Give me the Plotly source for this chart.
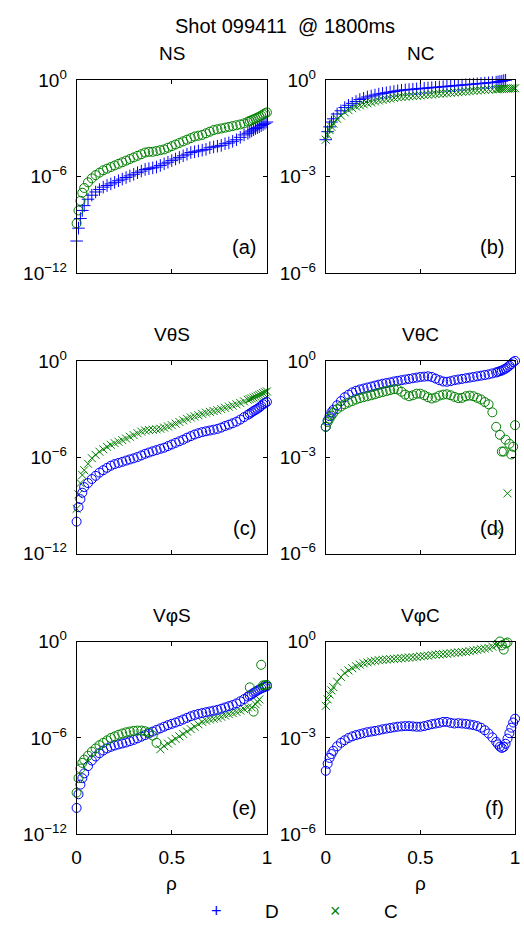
import plotly.graph_objects as go

# ---------------- data (log10 of |value|, sign separately) ----------------
RHO = [0, 0.01, 0.02, 0.03, 0.04, 0.06, 0.08, 0.10, 0.12, 0.14,
       0.16, 0.18, 0.20, 0.22, 0.24, 0.26, 0.28, 0.30, 0.32, 0.34,
       0.36, 0.38, 0.40, 0.42, 0.44, 0.46, 0.48, 0.50, 0.52, 0.54,
       0.56, 0.58, 0.60, 0.62, 0.64, 0.66, 0.68, 0.70, 0.72, 0.74,
       0.76, 0.78, 0.80, 0.82, 0.84, 0.86, 0.88, 0.90, 0.91, 0.92,
       0.93, 0.94, 0.95, 0.96, 0.97, 0.98, 0.99, 1.00]

NS_D = [-10.0, -9.2, -8.6, -8.1, -7.8, -7.4, -7.15, -6.95, -6.8, -6.65,
        -6.55, -6.45, -6.35, -6.25, -6.15, -6.05, -5.95, -5.85, -5.75, -5.65,
        -5.55, -5.5, -5.45, -5.4, -5.3, -5.2, -5.1, -5.0, -4.9, -4.8,
        -4.7, -4.6, -4.5, -4.45, -4.4, -4.35, -4.3, -4.2, -4.15, -4.1,
        -4.05, -3.95, -3.9, -3.8, -3.7, -3.55, -3.4, -3.3, -3.22, -3.15,
        -3.08, -3.0, -2.95, -2.9, -2.82, -2.75, -2.68, -2.6]
NS_D_SIGN = 1
NS_C = [-8.9, -8.1, -7.5, -7.0, -6.7, -6.35, -6.1, -5.9, -5.75, -5.6,
        -5.5, -5.4, -5.3, -5.2, -5.1, -5.0, -4.9, -4.8, -4.7, -4.6,
        -4.5, -4.45, -4.45, -4.4, -4.35, -4.3, -4.2, -4.1, -4.0, -3.9,
        -3.8, -3.7, -3.6, -3.5, -3.45, -3.4, -3.3, -3.2, -3.1, -3.05,
        -3.0, -2.95, -2.9, -2.85, -2.8, -2.75, -2.68, -2.58, -2.53, -2.48,
        -2.43, -2.38, -2.32, -2.27, -2.2, -2.13, -2.06, -2.0]
NS_C_SIGN = -1

NC_D = [-1.85, -1.6, -1.45, -1.3, -1.2, -1.05, -0.95, -0.85, -0.78, -0.72,
        -0.66, -0.6, -0.56, -0.52, -0.49, -0.46, -0.43, -0.41, -0.39, -0.37,
        -0.35, -0.33, -0.31, -0.3, -0.29, -0.28, -0.27, -0.26, -0.25, -0.24,
        -0.23, -0.22, -0.21, -0.2, -0.19, -0.18, -0.17, -0.16, -0.15, -0.14,
        -0.13, -0.12, -0.11, -0.1, -0.09, -0.08, -0.07, -0.06, -0.05, -0.04,
        -0.03, -0.01, 0.0, 0.02, None, None, None, None]
NC_D_SIGN = 1
NC_C = [-1.85, -1.7, -1.55, -1.45, -1.35, -1.2, -1.1, -1.0, -0.93, -0.87,
        -0.82, -0.78, -0.75, -0.72, -0.69, -0.66, -0.63, -0.61, -0.59, -0.57,
        -0.55, -0.53, -0.52, -0.51, -0.5, -0.49, -0.48, -0.47, -0.46, -0.45,
        -0.44, -0.43, -0.42, -0.41, -0.4, -0.39, -0.38, -0.37, -0.36, -0.35,
        -0.34, -0.33, -0.32, -0.31, -0.3, -0.29, -0.28, -0.28, -0.28, -0.27,
        -0.27, -0.27, -0.26, -0.26, -0.26, -0.25, -0.25, -0.25]
NC_C_SIGN = 1

VTS_D = [-10.0, -9.1, -8.6, -8.2, -7.85, -7.6, -7.35, -7.15, -6.95, -6.8,
         -6.65, -6.52, -6.42, -6.35, -6.28, -6.2, -6.13, -6.06, -5.98, -5.88,
         -5.78, -5.7, -5.62, -5.55, -5.47, -5.4, -5.3, -5.2, -5.1, -5.0,
         -4.9, -4.78, -4.68, -4.58, -4.5, -4.43, -4.38, -4.33, -4.28, -4.23,
         -4.15, -4.05, -3.97, -3.88, -3.78, -3.65, -3.5, -3.35, -3.28, -3.2,
         -3.12, -3.05, -2.98, -2.9, -2.8, -2.7, -2.62, -2.55]
VTS_D_SIGN = -1
VTS_C = [-9.2, -8.3, -7.6, -7.1, -6.8, -6.4, -6.05, -5.85, -5.65, -5.5,
         -5.35, -5.22, -5.12, -5.03, -4.93, -4.83, -4.72, -4.62, -4.5, -4.4,
         -4.33, -4.3, -4.28, -4.26, -4.22, -4.15, -4.08, -4.0, -3.9, -3.8,
         -3.7, -3.6, -3.52, -3.45, -3.38, -3.3, -3.22, -3.17, -3.12, -3.07,
         -3.0, -2.92, -2.85, -2.78, -2.7, -2.62, -2.52, -2.42, -2.38, -2.33,
         -2.28, -2.23, -2.17, -2.12, -2.06, -2.0, -1.95, -1.9]
VTS_C_SIGN = 1

VTC_D = [-2.05, -1.85, -1.72, -1.6, -1.52, -1.38, -1.25, -1.13, -1.05, -0.98,
         -0.93, -0.89, -0.86, -0.83, -0.8, -0.77, -0.74, -0.71, -0.69, -0.67,
         -0.64, -0.62, -0.6, -0.58, -0.56, -0.54, -0.52, -0.5, -0.49, -0.48,
         -0.5, -0.55, -0.6, -0.64, -0.65, -0.63, -0.6, -0.58, -0.56, -0.54,
         -0.52, -0.5, -0.48, -0.46, -0.44, -0.42, -0.39, -0.36, -0.34, -0.32,
         -0.3, -0.27, -0.24, -0.2, -0.15, -0.1, -0.04, 0.0]
VTC_D_SIGN = -1
VTC_C = [-2.05, -1.9, -1.8, -1.7, -1.62, -1.5, -1.42, -1.35, -1.3, -1.25,
         -1.2, -1.16, -1.13, -1.1, -1.07, -1.04, -1.0, -0.97, -0.94, -0.91,
         -0.88, -0.89, -0.96, -1.05, -1.1, -1.07, -1.02, -1.02, -1.07, -1.13,
         -1.17, -1.14, -1.08, -1.05, -1.04, -1.07, -1.12, -1.16, -1.15, -1.1,
         -1.08, -1.1, -1.15, -1.2, -1.28, -1.35, -1.6, -2.05, -5.3, -2.3,
         -2.82, -2.82, -2.45, -4.12, -2.58, -2.91, -2.67, -2.0]
VTC_C_SIGN = [-1, -1, -1, -1, -1, -1, -1, -1, -1, -1,
              -1, -1, -1, -1, -1, -1, -1, -1, -1, -1,
              -1, -1, -1, -1, -1, -1, -1, -1, -1, -1,
              -1, -1, -1, -1, -1, -1, -1, -1, -1, -1,
              -1, -1, -1, -1, -1, -1, -1, -1, 1, -1,
              -1, -1, -1, 1, -1, -1, -1, -1]

VPS_D = [-10.35, -9.5, -8.9, -8.5, -8.2, -7.75, -7.4, -7.15, -6.95, -6.78,
         -6.65, -6.55, -6.47, -6.4, -6.34, -6.28, -6.2, -6.12, -6.02, -5.92,
         -5.82, -5.72, -5.6, -5.5, -5.4, -5.3, -5.2, -5.12, -5.04, -4.95,
         -4.85, -4.75, -4.65, -4.57, -4.5, -4.45, -4.4, -4.35, -4.3, -4.25,
         -4.18, -4.1, -4.02, -3.95, -3.85, -3.72, -3.58, -3.42, -3.35, -3.28,
         -3.2, -3.12, -3.05, -2.98, -2.92, -2.87, -2.82, -2.78]
VPS_D_SIGN = -1
VPS_C = [-9.4, -8.5, -7.9, -7.55, -7.35, -7.1, -6.85, -6.65, -6.45, -6.3,
         -6.15, -6.0, -5.9, -5.8, -5.72, -5.65, -5.6, -5.56, -5.54, -5.54,
         -5.58, -5.66, -5.85, -6.3, -6.7, -6.5, -6.35, -6.2, -6.05, -5.9,
         -5.75, -5.6, -5.45, -5.3, -5.15, -5.0, -4.92, -4.85, -4.8, -4.75,
         -4.68, -4.6, -4.52, -4.45, -4.38, -4.3, -4.2, -4.1, -2.85, -4.1,
         -4.36, -3.9, -3.75, -3.6, -1.45, -2.73, -2.72, -2.7]
VPS_C_SIGN = [-1, -1, -1, -1, -1, -1, -1, -1, -1, -1,
              -1, -1, -1, -1, -1, -1, -1, -1, -1, -1,
              -1, -1, -1, -1, 1, 1, 1, 1, 1, 1,
              1, 1, 1, 1, 1, 1, 1, 1, 1, 1,
              1, 1, 1, 1, 1, 1, 1, 1, -1, 1,
              -1, 1, 1, 1, -1, -1, -1, -1]

VPC_D = [-4.02, -3.8, -3.62, -3.5, -3.4, -3.26, -3.15, -3.07, -3.0, -2.95,
         -2.91, -2.88, -2.85, -2.82, -2.8, -2.78, -2.76, -2.73, -2.71, -2.69,
         -2.67, -2.65, -2.64, -2.63, -2.63, -2.64, -2.65, -2.65, -2.63, -2.6,
         -2.57, -2.55, -2.53, -2.5, -2.5, -2.53, -2.55, -2.54, -2.55, -2.56,
         -2.58, -2.6, -2.63, -2.68, -2.76, -2.86, -2.98, -3.12, -3.2, -3.27,
         -3.31, -3.28, -3.18, -3.02, -2.85, -2.68, -2.52, -2.4]
VPC_D_SIGN = -1
VPC_C = [-2.0, -1.8, -1.65, -1.52, -1.42, -1.25, -1.1, -0.98, -0.9, -0.83,
         -0.77, -0.72, -0.68, -0.65, -0.62, -0.6, -0.58, -0.57, -0.56, -0.55,
         -0.54, -0.53, -0.52, -0.51, -0.5, -0.49, -0.48, -0.46, -0.45, -0.44,
         -0.42, -0.41, -0.4, -0.39, -0.38, -0.36, -0.35, -0.34, -0.33, -0.32,
         -0.3, -0.28, -0.26, -0.24, -0.22, -0.2, -0.16, -0.12, -0.08, 0.0,
         -0.12, -0.25, -0.06, -0.03, None, None, None, None]
VPC_C_SIGN = [1, 1, 1, 1, 1, 1, 1, 1, 1, 1,
              1, 1, 1, 1, 1, 1, 1, 1, 1, 1,
              1, 1, 1, 1, 1, 1, 1, 1, 1, 1,
              1, 1, 1, 1, 1, 1, 1, 1, 1, 1,
              1, 1, 1, 1, 1, 1, 1, 1, 1, -1,
              -1, -1, -1, -1, -1, -1, -1, -1]

PANEL_TITLES = ["NS", "NC", "V\u03b8S", "V\u03b8C", "V\u03c6S", "V\u03c6C"]
PANEL_LABELS = ["(a)", "(b)", "(c)", "(d)", "(e)", "(f)"]
SERIES = [(NS_D, NS_D_SIGN, NS_C, NS_C_SIGN),
          (NC_D, NC_D_SIGN, NC_C, NC_C_SIGN),
          (VTS_D, VTS_D_SIGN, VTS_C, VTS_C_SIGN),
          (VTC_D, VTC_D_SIGN, VTC_C, VTC_C_SIGN),
          (VPS_D, VPS_D_SIGN, VPS_C, VPS_C_SIGN),
          (VPC_D, VPC_D_SIGN, VPC_C, VPC_C_SIGN)]
LEFT_TICKS = [1e-12, 1e-6, 1]
LEFT_TICKTEXT = ["10<sup>\u221212</sup>", "10<sup>\u22126</sup>", "10<sup>0</sup>"]
RIGHT_TICKS = [1e-6, 1e-3, 1]
RIGHT_TICKTEXT = ["10<sup>\u22126</sup>", "10<sup>\u22123</sup>", "10<sup>0</sup>"]
X_TICKS = [0, 0.5, 1]
X_TICKTEXT = ["0", "0.5", "1"]
TITLE = "Shot 099411  @ 1800ms"

# ---------------- styling / layout ----------------
W, H = 524, 939
BLUE = "#0000ff"
GREEN = "#008000"
FONT = "Liberation Sans, Arial, sans-serif"
FS = 19
COLS = [(73, 267), (327, 520)]
ROWS = [(69, 267), (357, 555), (645, 843)]


def px(xp):
    return xp / W


def py(yp):
    return 1 - yp / H


def pick(mags, sign, want):
    out = []
    for i, m in enumerate(mags):
        s = sign if isinstance(sign, int) else sign[i]
        out.append(10 ** m if (m is not None and s == want) else None)
    return out


def mk(symbol, size, color):
    return dict(symbol=symbol, size=size, color=color,
                line=dict(color=color, width=1))


fig = go.Figure()
annotations = []
for k in range(6):
    r, c = divmod(k, 2)
    n = k + 1
    xa = "x" if n == 1 else f"x{n}"
    ya = "y" if n == 1 else f"y{n}"
    d_mag, d_sign, c_mag, c_sign = SERIES[k]
    common = dict(x=RHO, xaxis=xa, yaxis=ya, mode="markers", cliponaxis=False,
                  showlegend=False, hoverinfo="skip")
    # plotting order: D(+), C(x), D(o), C(o)
    fig.add_trace(go.Scatter(y=pick(d_mag, d_sign, 1), **common,
                             marker=mk("cross-thin-open", 9, BLUE)))
    fig.add_trace(go.Scatter(y=pick(c_mag, c_sign, 1), **common,
                             marker=mk("x-thin-open", 8, GREEN)))
    fig.add_trace(go.Scatter(y=pick(d_mag, d_sign, -1), **common,
                             marker=mk("circle-open", 9, BLUE)))
    fig.add_trace(go.Scatter(y=pick(c_mag, c_sign, -1), **common,
                             marker=mk("circle-open", 9, GREEN)))

    x0, x1 = COLS[c]
    y0, y1 = ROWS[r]
    axcommon = dict(showline=True, linecolor="black", linewidth=1, mirror="ticks",
                    ticks="inside", ticklen=4, tickcolor="black", showgrid=False,
                    zeroline=False, tickfont=dict(family=FONT, size=FS, color="black"))
    xkey = "xaxis" if n == 1 else f"xaxis{n}"
    ykey = "yaxis" if n == 1 else f"yaxis{n}"
    fig.update_layout(**{
        xkey: dict(domain=[px(x0), px(x1)], anchor=ya, range=[0, 1],
                   tickvals=X_TICKS, ticktext=X_TICKTEXT,
                   showticklabels=(r == 2), ticklabelstandoff=6, **axcommon),
        ykey: dict(domain=[py(y1), py(y0)], anchor=xa, type="log",
                   range=[-12, 0] if c == 0 else [-6, 0],
                   tickvals=LEFT_TICKS if c == 0 else RIGHT_TICKS,
                   ticktext=LEFT_TICKTEXT if c == 0 else RIGHT_TICKTEXT,
                   ticklabelstandoff=5, **axcommon),
    })
    cx = (x0 + x1) / 2
    annotations.append(dict(text=PANEL_TITLES[k], x=px(cx), y=py(y0 - 27),
                            xref="paper", yref="paper", showarrow=False,
                            xanchor="center", yanchor="middle",
                            font=dict(family=FONT, size=FS, color="black")))
    annotations.append(dict(text=PANEL_LABELS[k], x=px(x1 - 9), y=py(y1 - 27),
                            xref="paper", yref="paper", showarrow=False,
                            xanchor="right", yanchor="middle",
                            font=dict(family=FONT, size=FS + 1, color="black")))
    if r == 2:
        annotations.append(dict(text="\u03c1", x=px(cx), y=py(893),
                                xref="paper", yref="paper", showarrow=False,
                                xanchor="center", yanchor="middle",
                                font=dict(family=FONT, size=FS, color="black")))

annotations.append(dict(text=TITLE, x=px(285), y=py(13), xref="paper", yref="paper",
                        showarrow=False, xanchor="center", yanchor="middle",
                        font=dict(family=FONT, size=FS + 1, color="black")))
for txt, xp, col, fs in [("+", 216, BLUE, 18), ("D", 272, "black", FS),
                         ("\u00d7", 337, GREEN, 18), ("C", 393, "black", FS)]:
    annotations.append(dict(text=txt, x=px(xp), y=py(922), xref="paper", yref="paper",
                            showarrow=False, xanchor="center", yanchor="middle",
                            font=dict(family=FONT, size=fs, color=col)))

fig.update_layout(width=W, height=H, margin=dict(l=0, r=0, t=0, b=0),
                  paper_bgcolor="white", plot_bgcolor="white",
                  annotations=annotations)
fig.write_html("out.html")
